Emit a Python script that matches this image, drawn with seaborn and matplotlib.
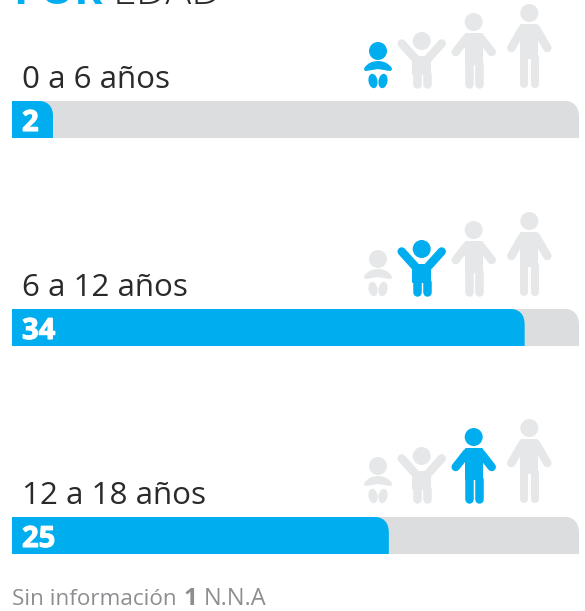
import matplotlib
matplotlib.use("Agg")
import matplotlib.patheffects as pe
import matplotlib.pyplot as plt
import pandas as pd
import seaborn as sns
from matplotlib.patches import Circle, Ellipse, PathPatch
from matplotlib.path import Path

# values
categories = ["0 a 6 años", "6 a 12 años", "12 a 18 años"]
counts = [2, 34, 25]
bar_lengths = [2.75, 34, 25]  # the "2" bar is drawn a bit longer than its value
track_length = 37.6
highlight = [0, 1, 2]
footer = ["Sin información", "1", "N.N.A"]
title = ["POR", "EDAD"]

BLUE = "#00aeef"
TRACK = "#dcddde"
ICON_GREY = "#e6e7e8"
DARK = "#2b2a2b"
FOOT = "#8c8e91"
FONT = "Open Sans"

PX = 0.72  # one pixel in points at dpi 100


def round_top_right(ax, patch, rx, ry):
    """Clip a bar so that only its top right corner is rounded."""
    b = patch.get_bbox()
    x0, x1 = b.xmin, b.xmax
    top, bottom = min(b.ymin, b.ymax), max(b.ymin, b.ymax)
    path = Path(
        [(x0, bottom), (x0, top), (x1 - rx, top), (x1, top), (x1, top + ry), (x1, bottom), (x0, bottom)],
        [Path.MOVETO, Path.LINETO, Path.LINETO, Path.CURVE3, Path.CURVE3, Path.LINETO, Path.CLOSEPOLY],
    )
    patch.set_clip_path(path, ax.transData)


def limb(ax, xs, ys, color, width):
    ax.plot(xs, ys, color=color, lw=width * PX, solid_capstyle="round", solid_joinstyle="round")


def person(ax, cx, base, color, head_y, arm, shoulder_y, half_torso, hip_y, leg_dx, leg_w):
    ax.add_patch(Circle((cx, base + head_y), 9, color=color, lw=0))
    ax.fill(
        [cx - half_torso, cx + half_torso, cx + half_torso, cx - half_torso],
        [base + shoulder_y, base + shoulder_y, base + hip_y, base + hip_y],
        color=color, lw=2 * PX, joinstyle="round",
    )
    for side in (-1, 1):
        limb(ax, [cx + side * arm[0], cx + side * arm[2]], [base + arm[1], base + arm[3]], color, 8.5)
        limb(ax, [cx + side * leg_dx, cx + side * leg_dx], [base + hip_y, base - leg_w / 2], color, leg_w)


def baby(ax, base, color):
    cx = 378
    ax.add_patch(Circle((cx, base - 37), 9, color=color, lw=0))
    body = Path(
        [(cx - 12, base - 19), (cx - 8, base - 25), (cx, base - 25), (cx + 8, base - 25), (cx + 12, base - 19),
         (cx, base - 21), (cx - 12, base - 19)],
        [Path.MOVETO, Path.CURVE3, Path.CURVE3, Path.CURVE3, Path.CURVE3, Path.LINETO, Path.CLOSEPOLY],
    )
    ax.add_patch(PathPatch(body, facecolor=color, edgecolor=color, lw=4 * PX, joinstyle="round"))
    for side in (-1, 1):
        ax.add_patch(Ellipse((cx + side * 5, base - 7), 9, 14.5, angle=side * 10, color=color, lw=0))


def child(ax, base, color):
    person(ax, 421.7, base, color, -47, (6, -29, 20, -44.5), -31, 8.5, -14, 5, 8.5)


def teen(ax, base, color):
    person(ax, 473.7, base, color, -66, (7, -50, 18, -36), -54, 8, -24, 5.2, 8.5)


def adult(ax, base, color):
    person(ax, 529.3, base, color, -75, (7, -59, 18, -40), -63, 8, -30, 5.2, 8)


df = pd.DataFrame({"categoria": categories, "valor": bar_lengths, "total": [track_length] * len(categories)})

sns.set_theme(style="white")
plt.rcParams["font.family"] = [FONT, "DejaVu Sans"]

fig = plt.figure(figsize=(5.85, 6.11), dpi=100)
ax = fig.add_axes([0, 0, 1, 1])
sns.barplot(data=df, y="categoria", x="total", color=TRACK, saturation=1, width=37.5 / 208, orient="h",
            linewidth=0, ax=ax)
sns.barplot(data=df, y="categoria", x="valor", color=BLUE, saturation=1, width=37.5 / 208, orient="h",
            linewidth=0, ax=ax)
ax.set_xlim(-11.6 / 15.09, (585 - 11.6) / 15.09)
ax.set_ylim((611 - 119.5) / 208, -119.5 / 208)
ax.axis("off")

for p in ax.patches:
    round_top_right(ax, p, 16 / 15.09, 16 / 208)

# second axes in pixels for the labels and the icons
over = fig.add_axes([0, 0, 1, 1], facecolor="none")

over.text(13, 4, title[0], color=BLUE, fontsize=31, fontweight="bold", va="baseline", clip_on=False)
over.text(113, 4, title[1], color=DARK, fontsize=31, fontweight="light", va="baseline", clip_on=False)

bases = [88, 296, 503]
label_bases = [88.5, 296.5, 504.5]
value_bases = [131, 339, 547]
for i, cat in enumerate(categories):
    over.text(22, label_bases[i], cat, color=DARK, fontsize=22.6, va="baseline")
    over.text(22, value_bases[i], str(counts[i]), color="white", fontsize=21, fontweight="bold", va="baseline",
              path_effects=[pe.withStroke(linewidth=0.8, foreground="white")])
    for j, icon in enumerate([baby, child, teen, adult]):
        icon(over, bases[i], BLUE if j == highlight[i] else ICON_GREY)

over.text(12, 605, footer[0], color=FOOT, fontsize=16.2, va="baseline")
over.text(184, 605, footer[1], color=FOOT, fontsize=17.5, fontweight="bold", va="baseline")
over.text(204, 605, footer[2], color=FOOT, fontsize=17, va="baseline")
over.set_xlim(0, 585)
over.set_ylim(611, 0)
over.axis("off")

fig.savefig("out.png", dpi=100)
